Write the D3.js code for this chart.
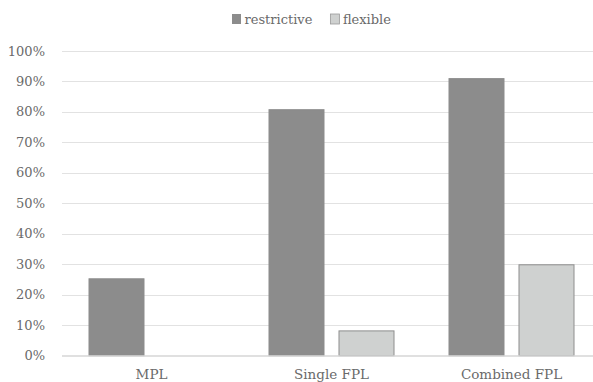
<!DOCTYPE html>
<html><head><meta charset="utf-8">
<script src="https://cdn.jsdelivr.net/npm/d3@7"></script>
<style>body{margin:0;background:#fff}svg{display:block}</style>
</head><body>
<svg id="c" width="593" height="382"></svg>
<script>
const categories = ["MPL", "Single FPL", "Combined FPL"];
const series = ["restrictive", "flexible"];
const restrictive = [25.4, 80.9, 91.1];
const flexible = [0, 8.3, 30.0];
const yTicks = [0, 10, 20, 30, 40, 50, 60, 70, 80, 90, 100];

const colors = {restrictive: "#8c8c8c", flexible: "#cfd1d0"};
const strokes = {restrictive: "#8c8c8c", flexible: "#8e8e8e"};
const font = "'DejaVu Serif', serif";
const textColor = "#6a6a6a";

const svg = d3.select("#c");
const plotLeft = 62, plotRight = 593;

const y = d3.scaleLinear().domain([0, 100]).range([355.7, 51]);
const x0 = d3.scaleBand().domain(categories).range([61.5, 601.5]);
const x1 = d3.scaleBand().domain(series).range([27, 153]).paddingInner(0.2);

// gridlines
svg.append("g").selectAll("line").data(yTicks.filter(t => t > 0)).join("line")
  .attr("x1", plotLeft).attr("x2", plotRight)
  .attr("y1", d => Math.round(y(d)) + 0.5).attr("y2", d => Math.round(y(d)) + 0.5)
  .attr("stroke", "#e2e2e2").attr("stroke-width", 1);

// y labels
svg.append("g").selectAll("text").data(yTicks).join("text")
  .attr("x", 45).attr("y", d => y(d)).attr("dy", "0.35em")
  .attr("text-anchor", "end")
  .style("font-family", font).style("font-size", "13px").attr("fill", textColor)
  .text(d => d + "%");

// bars
const data = categories.map((c, i) => ({cat: c, values: [
  {key: "restrictive", v: restrictive[i]}, {key: "flexible", v: flexible[i]}]}));
svg.append("g").selectAll("g").data(data).join("g")
  .attr("transform", d => `translate(${x0(d.cat)},0)`)
  .selectAll("rect").data(d => d.values.filter(v => v.v > 0)).join("rect")
  .attr("x", d => x1(d.key) + 0.5).attr("width", x1.bandwidth() - 1)
  .attr("y", d => y(d.v) + 0.5).attr("height", d => y(0) - y(d.v) - 0.5)
  .attr("fill", d => colors[d.key]).attr("stroke", d => strokes[d.key]).attr("stroke-width", 1);

// axis baseline
svg.append("line").attr("x1", plotLeft).attr("x2", plotRight)
  .attr("y1", y(0) + 0.3).attr("y2", y(0) + 0.3)
  .attr("stroke", "#d6d6d6").attr("stroke-width", 1.6);

// category labels
svg.append("g").selectAll("text").data(categories).join("text")
  .attr("x", d => x0(d) + 90).attr("y", 378.5).attr("text-anchor", "middle")
  .style("font-family", font).style("font-size", "13.5px").attr("fill", textColor)
  .text(d => d);

// legend
const lg = svg.append("g");
const items = lg.selectAll("g").data(series).join("g");
items.append("rect").attr("width", 9).attr("height", 10).attr("y", 14)
  .attr("fill", d => colors[d]).attr("stroke", d => d === "flexible" ? "#9a9a9a" : "none").attr("stroke-width", 0.8);
items.append("text").attr("x", 12.5).attr("y", 23.5)
  .style("font-family", font).style("font-size", "13px").attr("fill", textColor)
  .text(d => d);
let xpos = 0;
const gap = 18;
items.each(function() {
  const w = 12.5 + this.querySelector("text").getComputedTextLength();
  d3.select(this).attr("transform", `translate(${xpos},0)`);
  xpos += w + gap;
});
const total = xpos - gap;
lg.attr("transform", `translate(${Math.round(311 - total / 2)},0)`);
</script>
</body></html>
